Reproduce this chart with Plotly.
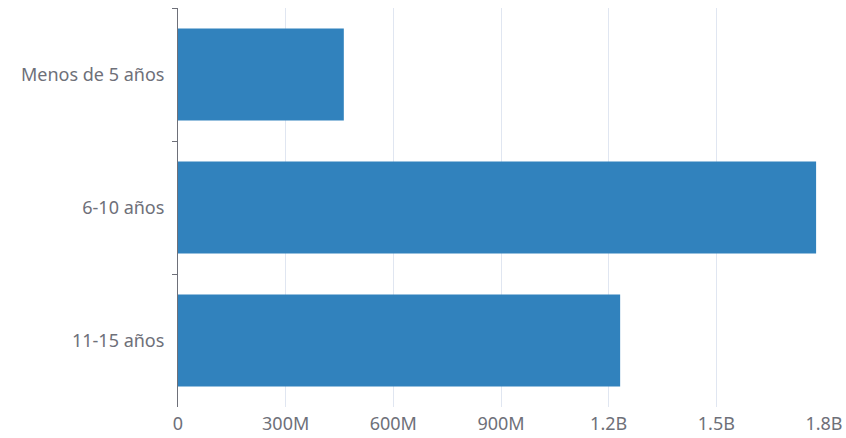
import plotly.graph_objects as go

categories = ["Menos de 5 años", "6-10 años", "11-15 años"]
values = [462e6, 1778e6, 1232e6]
tick_vals = [0, 300e6, 600e6, 900e6, 1200e6, 1500e6, 1800e6]
tick_text = ["0", "300M", "600M", "900M", "1.2B", "1.5B", "1.8B"]

fig = go.Figure(go.Bar(
    x=values, y=categories, orientation="h",
    marker=dict(color="#3182bd", line=dict(width=0)),
    hoverinfo="x+y",
))

font = dict(family="Noto Sans, Open Sans, sans-serif", size=18, color="#6e7079")

fig.update_layout(
    width=846, height=438,
    margin=dict(l=178, r=22, t=8, b=31, pad=0),
    paper_bgcolor="white", plot_bgcolor="white",
    bargap=0.31,
    font=font,
    showlegend=False,
    xaxis=dict(
        range=[0, 1.8e9], tickvals=tick_vals, ticktext=tick_text,
        showgrid=True, gridcolor="#e0e6f1", gridwidth=1,
        zeroline=False, showline=False, ticks="",
        tickfont=font, automargin=False, ticklabelstandoff=4,
    ),
    yaxis=dict(
        categoryorder="array", categoryarray=categories,
        autorange="reversed",
        showline=True, linecolor="#6e7079", linewidth=1,
        ticks="outside", tickson="boundaries", ticklen=5, tickcolor="#6e7079",
        showgrid=False, zeroline=False,
        tickfont=font, ticklabelstandoff=9, automargin=False,
    ),
)

fig.write_html(
    "out.html",
    config={"displayModeBar": False},
    post_script="document.body.style.margin='0';document.body.style.overflow='hidden';",
)
